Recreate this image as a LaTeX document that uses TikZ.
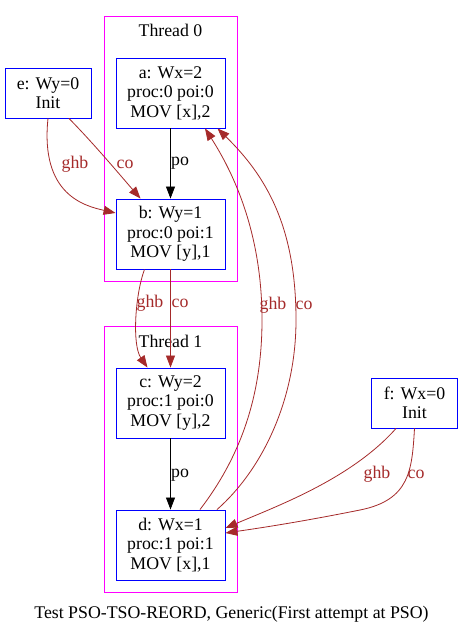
\documentclass[tikz,border=0pt]{standalone}
\usepackage{fontspec}
\setmainfont{Liberation Serif}
\usetikzlibrary{arrows.meta}
\definecolor{brn}{HTML}{A52A2A}
\definecolor{mag}{HTML}{FF00FF}
\definecolor{blu}{HTML}{0000FF}
\begin{document}
\begin{tikzpicture}[x=1pt,y=-1pt,
  font=\fontsize{17.8}{19.5}\selectfont,
  ev/.style={draw=blu,line width=0.9pt,minimum width=109pt,minimum height=70pt,inner sep=0pt,align=center},
  ini/.style={draw=blu,line width=0.9pt,minimum width=86pt,minimum height=50pt,inner sep=0pt,align=center},
  clus/.style={draw=mag,line width=0.9pt},
  tip/.style={-{Triangle[length=12pt,width=9pt]}},
  poe/.style={tip,black,line width=0.8pt},
  rel/.style={tip,brn,line width=0.8pt},
  lab/.style={text=brn,inner sep=0pt},
  plab/.style={text=black,inner sep=0pt}]
\useasboundingbox (0,0) rectangle (463,639);
\fill[white] (0,0) rectangle (463,639);
% clusters
\draw[clus] (104,16) rectangle (237,281);
\node[inner sep=0pt] (t0) at (170.5,30) {Thread 0};
\draw[clus] (104,326) rectangle (237,592);
\node[inner sep=0pt] (t1) at (170.5,341) {Thread 1};
% events
\node[ev] (a) at (170.5,93) {a: Wx=2\\proc:0 poi:0\\MOV [x],2};
\node[ev] (b) at (170.5,234) {b: Wy=1\\proc:0 poi:1\\MOV [y],1};
\node[ev] (c) at (170.5,403) {c: Wy=2\\proc:1 poi:0\\MOV [y],2};
\node[ev] (d) at (170.5,545) {d: Wx=1\\proc:1 poi:1\\MOV [x],1};
\node[ini] (e) at (48,93) {e: Wy=0\\Init};
\node[ini] (f) at (414.5,403) {f: Wx=0\\Init};
% po edges
\draw[poe] (a.south) -- (b.north);
\node[plab] at (180,163) {po};
\draw[poe] (c.south) -- (d.north);
\node[plab] at (180,475) {po};
% e -> b
\draw[rel] (e.south) .. controls (40,195) and (85,206) .. ([yshift=21pt]b.west);
\node[lab] at (75,164) {ghb};
\draw[rel] ([xshift=21pt]e.south) .. controls (95,145) and (120,175) .. ([xshift=-30pt]b.north);
\node[lab] at (125,164) {co};
% b -> c
\draw[rel] ([xshift=-26pt]b.south) .. controls (135,295) and (132,345) .. ([xshift=-23pt]c.north);
\node[lab] at (150,303) {ghb};
\draw[rel] (b.south) -- (c.north);
\node[lab] at (180,303) {co};
% d -> a
\draw[rel] ([xshift=29.5pt]d.north) .. controls (238,460) and (262,400) .. (262,320)
  .. controls (262,240) and (238,180) .. ([xshift=34.5pt]a.south);
\node[lab] at (273,305) {ghb};
\draw[rel] ([xshift=46.5pt]d.north) .. controls (262,470) and (296,400) .. (296,320)
  .. controls (296,225) and (265,175) .. ([xshift=47pt]a.south);
\node[lab] at (304,305) {co};
% f -> d
\draw[rel] ([xshift=-18.5pt]f.south) .. controls (352,478) and (280,505) .. ([yshift=17pt]d.east);
\node[lab] at (377,474) {ghb};
\draw[rel] (f.south) .. controls (412,470) and (410,500) .. (360,510)
  .. controls (300,522) and (260,528) .. ([yshift=12pt]d.east);
\node[lab] at (416,474) {co};
% caption
\node[inner sep=0pt] (cap) at (231.5,614) {Test PSO-TSO-REORD, Generic(First attempt at PSO)};
\end{tikzpicture}
\end{document}
